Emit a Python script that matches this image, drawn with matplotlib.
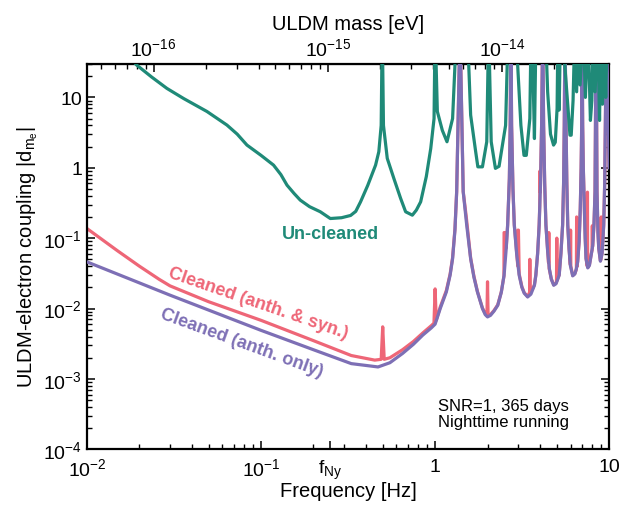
import numpy as np
import matplotlib
matplotlib.use("Agg")
import matplotlib.pyplot as plt
from matplotlib.ticker import LogLocator, NullFormatter

plt.rcParams['font.family'] = ['Liberation Sans', 'DejaVu Sans']
plt.rcParams['mathtext.fontset'] = 'custom'
plt.rcParams['mathtext.rm'] = 'Liberation Sans'
plt.rcParams['mathtext.it'] = 'Liberation Sans:italic'
plt.rcParams['mathtext.bf'] = 'Liberation Sans:bold'

# un-cleaned sensitivity
f_unclean = [0.018, 0.0193, 0.0235, 0.0288, 0.036, 0.0489, 0.0637, 0.073, 0.083, 0.1,
             0.118, 0.13, 0.141, 0.155, 0.168, 0.19, 0.219, 0.25, 0.29, 0.327,
             0.35, 0.373, 0.41, 0.455, 0.475, 0.49, 0.497, 0.505, 0.531, 0.58,
             0.634, 0.677, 0.74, 0.78, 0.826, 0.89, 0.944, 0.986, 1.0, 1.03,
             1.10, 1.17, 1.26, 1.33, 1.53, 1.60, 1.71, 1.76, 1.87, 1.98,
             2.03, 2.10, 2.22, 2.33, 2.54, 2.63, 2.9, 3.11, 3.24, 3.34,
             3.5, 3.56, 3.64, 3.72, 3.8, 4.3, 4.43, 4.6, 4.79, 4.9,
             5.02, 5.08, 5.16, 5.25, 5.35, 5.8, 5.95, 6.05, 6.2, 6.35,
             6.5, 6.65, 6.8, 7.1, 7.3, 7.55, 7.8, 7.95, 8.1, 8.3,
             8.6, 8.8, 8.95, 9.15, 9.35, 9.55, 9.75, 10.0]
d_unclean = [35, 28.8, 19.5, 13.4, 9.6, 6.3, 4.04, 3.0, 2.1, 1.5,
             1.09, 0.8, 0.566, 0.43, 0.347, 0.28, 0.237, 0.19, 0.195, 0.21,
             0.24, 0.328, 0.56, 1.09, 1.69, 4.0, 100, 4.0, 1.36, 0.7,
             0.366, 0.237, 0.212, 0.25, 0.328, 0.75, 1.88, 5.0, 100, 6.3,
             3.4, 2.34, 5.0, 100, 100, 5.6, 1.69, 1.03, 1.03, 2.34,
             100, 2.34, 0.98, 1.05, 4.0, 100, 100, 4.0, 1.5, 1.5,
             5.0, 100, 30, 2.6, 100, 100, 12, 3.0, 2.1, 2.3,
             7.0, 100, 6.6, 100, 100, 7.0, 2.9, 2.9, 9.0, 100,
             12, 100, 15, 100, 10, 100, 4.7, 9.0, 100, 12,
             100, 4.7, 100, 8.0, 100, 10, 100, 100]

# cleaned: anthropogenic + synchronous noise removed
f_syn = [0.01, 0.015, 0.02, 0.026, 0.03, 0.05, 0.1, 0.2, 0.33, 0.45,
         0.49, 0.5, 0.51, 0.55, 0.65, 0.75, 0.85, 0.95, 0.985, 1.0,
         1.015, 1.07, 1.16, 1.22, 1.26, 1.30, 1.33, 1.39, 1.45, 1.49,
         1.5, 1.51, 1.6, 1.67, 1.75, 1.87, 1.94, 1.985, 2.0, 2.015,
         2.08, 2.18, 2.29, 2.4, 2.485, 2.49, 2.51, 2.56, 2.61, 2.67,
         2.70, 2.725, 2.75, 2.80, 2.85, 2.94, 2.985, 2.99, 3.01, 3.04,
         3.15, 3.25, 3.4, 3.49, 3.5, 3.51, 3.65, 3.72, 3.79, 3.88,
         3.96, 3.99, 4.0, 4.02, 4.09, 4.15, 4.2, 4.26, 4.33, 4.43,
         4.48, 4.5, 4.52, 4.65, 4.8, 4.95, 4.98, 5.0, 5.02, 5.06,
         5.16, 5.28, 5.4, 5.47, 5.52, 5.57, 5.65, 5.71, 5.78, 5.88,
         5.98, 6.0, 6.02, 6.17, 6.35, 6.48, 6.5, 6.52, 6.59, 6.72,
         6.82, 6.9, 6.95, 6.98, 7.04, 7.1, 7.2, 7.28, 7.36, 7.48,
         7.5, 7.52, 7.56, 7.7, 7.9, 7.98, 8.0, 8.02, 8.04, 8.18,
         8.29, 8.41, 8.51, 8.62, 8.71, 8.9, 8.98, 9.0, 9.02, 9.1,
         9.3, 9.42, 9.5, 9.65, 10.0]
d_syn = [0.137, 0.066, 0.040, 0.026, 0.021, 0.0125, 0.0068, 0.0035, 0.00215, 0.00185,
         0.0019, 0.0055, 0.0019, 0.0020, 0.0026, 0.0034, 0.0045, 0.0057, 0.0062, 0.019,
         0.0068, 0.0105, 0.018, 0.031, 0.053, 0.135, 0.46, 100, 0.46, 0.26,
         0.22, 0.2, 0.052, 0.029, 0.0175, 0.0102, 0.0085, 0.0079, 0.024, 0.0079,
         0.0082, 0.0094, 0.0113, 0.0172, 0.029, 0.12, 0.12, 0.072, 0.155, 0.7,
         4.0, 100, 4.0, 0.5, 0.155, 0.061, 0.04, 0.13, 0.13, 0.031,
         0.0205, 0.0168, 0.0148, 0.017, 0.05, 0.018, 0.0195, 0.0218, 0.0302, 0.061,
         0.155, 0.28, 0.9, 0.45, 4.0, 100, 4.0, 0.6, 0.155, 0.066,
         0.045, 0.12, 0.037, 0.0265, 0.0218, 0.023, 0.024, 0.10, 0.025, 0.0265,
         0.0302, 0.061, 0.155, 0.6, 4.0, 100, 4.0, 0.6, 0.155, 0.071,
         0.042, 0.13, 0.040, 0.0295, 0.0315, 0.036, 0.2, 0.039, 0.047, 0.091,
         0.26, 1.0, 4.0, 100, 4.0, 1.0, 0.26, 0.1, 0.052, 0.04,
         0.45, 0.04, 0.0385, 0.042, 0.061, 0.068, 0.15, 0.075, 0.08, 0.16,
         0.456, 100, 0.456, 0.12, 0.072, 0.048, 0.05, 0.2, 0.055, 0.062,
         0.155, 0.6, 4.0, 100, 1.0]

# cleaned: anthropogenic noise only
f_anth = [0.01, 0.03, 0.1, 0.2, 0.33, 0.47, 0.55, 0.65, 0.75, 0.85,
          0.95, 1.0, 1.07, 1.16, 1.22, 1.26, 1.30, 1.33, 1.39, 1.45,
          1.52, 1.6, 1.67, 1.75, 1.87, 1.94, 2.0, 2.08, 2.18, 2.29,
          2.4, 2.49, 2.56, 2.61, 2.67, 2.70, 2.725, 2.75, 2.80, 2.85,
          2.94, 3.04, 3.15, 3.25, 3.4, 3.55, 3.65, 3.72, 3.79, 3.88,
          3.96, 4.04, 4.09, 4.15, 4.2, 4.26, 4.33, 4.43, 4.53, 4.65,
          4.8, 4.95, 5.06, 5.16, 5.28, 5.4, 5.47, 5.52, 5.57, 5.65,
          5.71, 5.78, 5.88, 5.98, 6.17, 6.35, 6.48, 6.59, 6.72, 6.82,
          6.9, 6.95, 6.98, 7.04, 7.1, 7.2, 7.28, 7.36, 7.53, 7.7,
          7.9, 8.04, 8.18, 8.29, 8.41, 8.51, 8.62, 8.71, 8.9, 9.1,
          9.3, 9.42, 9.5, 9.65, 10.0]
d_anth = [0.046, 0.0155, 0.0049, 0.0026, 0.00165, 0.00148, 0.0017, 0.0023, 0.0031, 0.0042,
          0.0053, 0.006, 0.0100, 0.0172, 0.030, 0.051, 0.13, 0.456, 100, 0.456,
          0.15, 0.051, 0.028, 0.0172, 0.0100, 0.0082, 0.0076, 0.0080, 0.0092, 0.0111,
          0.017, 0.0297, 0.07, 0.153, 0.7, 4.0, 100, 4.0, 0.5, 0.153,
          0.06, 0.0297, 0.02, 0.0165, 0.0146, 0.016, 0.019, 0.0214, 0.0297, 0.06,
          0.153, 0.7, 4.0, 100, 4.0, 0.6, 0.153, 0.065, 0.037, 0.026,
          0.0214, 0.0225, 0.026, 0.0297, 0.06, 0.153, 0.6, 4.0, 100, 4.0,
          0.6, 0.153, 0.07, 0.041, 0.0291, 0.031, 0.037, 0.046, 0.09, 0.26,
          1.0, 4.0, 100, 4.0, 1.0, 0.26, 0.1, 0.051, 0.0378, 0.041,
          0.06, 0.079, 0.16, 0.456, 100, 0.456, 0.12, 0.071, 0.047, 0.06,
          0.153, 0.6, 4.0, 100, 1.0]

x_ticks = [0.01, 0.1, 0.25, 1, 10]
x_ticklabels = ['$10^{-2}$', '$10^{-1}$', 'f$_{\\mathrm{Ny}}$', '1', '10']
y_ticks = [1e-4, 1e-3, 1e-2, 1e-1, 1, 10]
y_ticklabels = ['$10^{-4}$', '$10^{-3}$', '$10^{-2}$', '$10^{-1}$', '1', '10']
m_ticks = [1e-16, 1e-15, 1e-14]
m_ticklabels = ['$10^{-16}$', '$10^{-15}$', '$10^{-14}$']

c_green = '#1f8a78'
c_red = '#ee6677'
c_purple = '#7d6fb5'

h_eV = 4.135667696e-15  # Planck constant, eV s


def f2m(f):
    return f * h_eV


def m2f(m):
    return m / h_eV


fig = plt.figure(figsize=(6.21, 5.10), dpi=100)
ax = fig.add_axes([0.140, 0.117, 0.841, 0.756])

ax.plot(f_syn, d_syn, color=c_red, lw=2.3, zorder=2)
ax.plot(f_anth, d_anth, color=c_purple, lw=2.3, zorder=3)
ax.plot(f_unclean, d_unclean, color=c_green, lw=2.3, zorder=4)

ax.set_xscale('log')
ax.set_yscale('log')
ax.set_xlim(0.01, 10)
ax.set_ylim(1e-4, 30)

ax.set_xticks(x_ticks)
ax.set_xticklabels(x_ticklabels)
ax.set_yticks(y_ticks)
ax.set_yticklabels(y_ticklabels)
ax.xaxis.set_minor_locator(LogLocator(base=10, subs=np.arange(2, 10), numticks=20))
ax.yaxis.set_minor_locator(LogLocator(base=10, subs=np.arange(2, 10), numticks=20))
ax.xaxis.set_minor_formatter(NullFormatter())
ax.yaxis.set_minor_formatter(NullFormatter())

ax.tick_params(which='both', direction='in', top=False, right=True, labelsize=14)
ax.tick_params(axis='x', which='major', pad=6)
ax.tick_params(which='major', length=6, width=1.1)
ax.tick_params(which='minor', length=3.5, width=1.0)
for s in ax.spines.values():
    s.set_linewidth(1.6)

ax.set_xlabel('Frequency [Hz]', fontsize=14.5, labelpad=0)
ax.set_ylabel('ULDM-electron coupling |d$_{\\mathrm{m}_\\mathrm{e}}$|', fontsize=14.5, labelpad=2)

sec = ax.secondary_xaxis('top', functions=(f2m, m2f))
sec.set_xscale('log')
sec.set_xticks(m_ticks)
sec.set_xticklabels(m_ticklabels)
sec.xaxis.set_minor_locator(LogLocator(base=10, subs=np.arange(2, 10), numticks=20))
sec.xaxis.set_minor_formatter(NullFormatter())
sec.tick_params(which='both', direction='in', labelsize=14)
sec.tick_params(which='major', length=6, width=1.1)
sec.tick_params(which='minor', length=3.5, width=1.0)
sec.set_xlabel('ULDM mass [eV]', fontsize=14.5, labelpad=6)

ax.text(0.25, 0.116, 'Un-cleaned', color=c_green, fontsize=13, fontweight='bold',
        ha='center', va='center')
ax.text(0.0965, 0.0121, 'Cleaned (anth. & syn.)', color=c_red, fontsize=13,
        fontweight='bold', ha='center', va='center', rotation=-19)
ax.text(0.077, 0.00327, 'Cleaned (anth. only)', color=c_purple, fontsize=13,
        fontweight='bold', ha='center', va='center', rotation=-20)
ax.text(0.672, 0.092, 'SNR=1, 365 days\nNighttime running', transform=ax.transAxes,
        fontsize=12, ha='left', va='center', linespacing=1.1)

fig.savefig('out.png', dpi=100)
